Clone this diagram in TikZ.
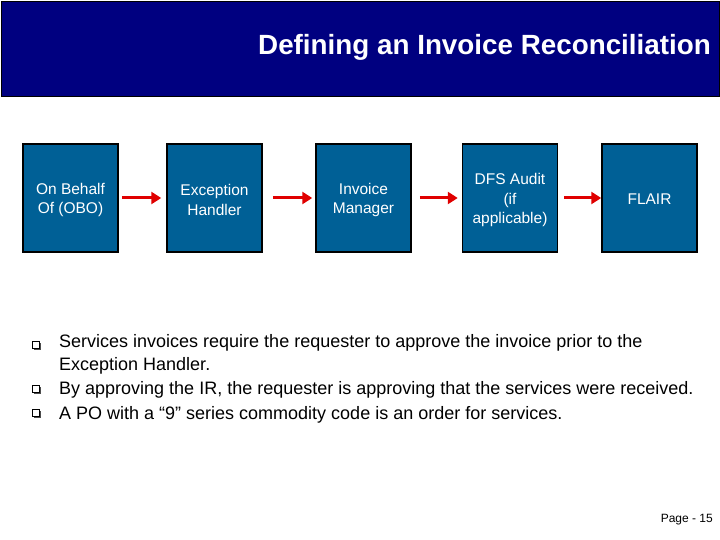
\documentclass[tikz,border=0pt]{standalone}
\usepackage{fontspec}
\setmainfont{Liberation Sans}
\usetikzlibrary{arrows.meta}
\definecolor{navyhead}{RGB}{0,0,128}
\definecolor{boxblue}{RGB}{0,96,150}
\definecolor{arrowred}{RGB}{224,0,0}
\begin{document}
\begin{tikzpicture}[x=1pt,y=-1pt,
  stepbox/.style={draw=black,line width=1.5pt,fill=boxblue,minimum width=95pt,minimum height=108pt,inner sep=0pt},
  steptext/.style={text=white,font=\fontsize{15.5}{19.5}\selectfont,align=center,inner sep=0pt},
  flowarrow/.style={draw=arrowred,line width=3pt,-{Triangle[length=10pt,width=12pt]},shorten <=3pt,shorten >=5pt},
  bullettext/.style={anchor=base west,font=\fontsize{18}{23}\selectfont,inner sep=0pt},
  bulletbox/.style={draw=black,line width=0.9pt,fill=white,minimum size=7pt,inner sep=0pt},
  bulletshadow/.style={fill=black!70,minimum size=7pt,inner sep=0pt}
]
\useasboundingbox (0,0) rectangle (720,540);
\fill[white] (0,0) rectangle (720,540);
% header
\node[draw=black,line width=1.2pt,fill=navyhead,minimum width=718pt,minimum height=95pt,anchor=north west,inner sep=0pt] (head) at (1,1) {};
\node[anchor=base east,text=white,font=\fontsize{27.8}{30}\selectfont\bfseries,inner sep=0pt] (title) at (711,55) {Defining an Invoice Reconciliation};
% boxes
\node[stepbox] (obo) at (70.5,198) {};
\node[stepbox] (exc) at (214.5,198) {};
\node[stepbox] (inv) at (363.5,198) {};
\node[stepbox] (dfs) at (510,198) {};
\node[stepbox] (flair) at (649.5,198) {};
\node[steptext] (oboT) at ([yshift=-2pt]obo.center) {On Behalf\\Of (OBO)};
\node[steptext] (excT) at ([yshift=-2pt]exc.center) {Exception\\Handler};
\node[steptext] (invT) at ([yshift=-2pt]inv.center) {Invoice\\Manager};
\node[steptext] (dfsT) at ([yshift=-2pt]dfs.center) {DFS Audit\\(if\\applicable)};
\node[steptext] (flairT) at ([yshift=-1pt]flair.center) {FLAIR};
% arrows
\draw[flowarrow] (obo) -- (exc);
\draw[flowarrow,shorten <=10pt,shorten >=3pt] (exc) -- (inv);
\draw[flowarrow,shorten <=8pt,shorten >=4pt] (inv) -- (dfs);
\draw[flowarrow,shorten <=6pt,shorten >=0pt] (dfs) -- (flair);
% bullets
\foreach \n/\y in {b1/345, b2/389, b3/413}{
  \node[bulletshadow] at (37,\y+1) {};
  \node[bulletbox] (\n) at (36,\y) {};
}
\node[bullettext] (t1) at (59,347) {Services invoices require the requester to approve the invoice prior to the};
\node[bullettext] (t1b) at (59,370) {Exception Handler.};
\node[bullettext] (t2) at (59,394) {By approving the IR, the requester is approving that the services were received.};
\node[bullettext] (t3) at (59,419) {A PO with a “9” series commodity code is an order for services.};
% page number
\node[anchor=base east,font=\fontsize{12}{14}\selectfont,inner sep=0pt] (page) at (713,522) {Page - 15};
\end{tikzpicture}
\end{document}
